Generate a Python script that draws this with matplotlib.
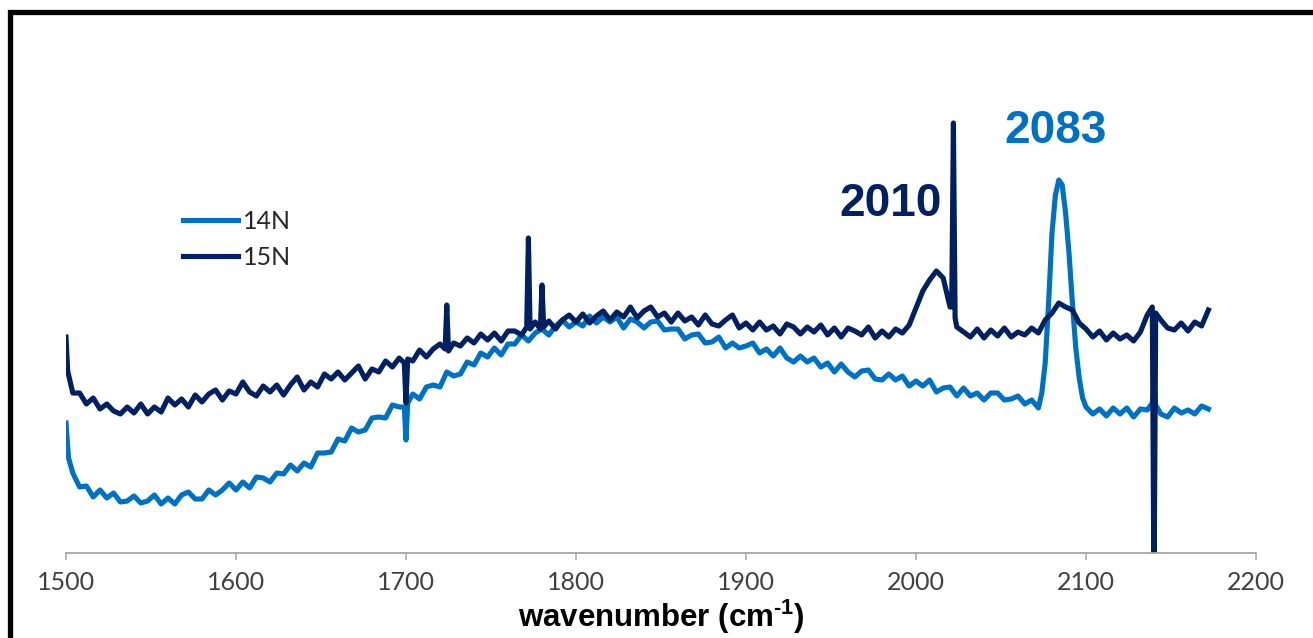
import numpy as np
import matplotlib
matplotlib.use("Agg")
import matplotlib.pyplot as plt
from matplotlib.patches import Rectangle

# wavenumber grid (cm-1), 4 cm-1 step
wn = np.arange(1500, 2173, 4)

# 14N intensity (arb. units) on the grid
n14 = [130, 80, 66, 67, 56, 63, 55, 60, 51, 52,
       57, 50, 52, 58, 49, 55, 49, 58, 61, 54,
       54, 63, 58, 63, 70, 63, 71, 65, 76, 75,
       71, 80, 79, 88, 82, 90, 86, 100, 100, 101,
       114, 112, 125, 121, 123, 135, 136, 135, 148, 146,
       151, 159, 154, 166, 168, 166, 181, 177, 179, 191,
       188, 200, 196, 205, 198, 209, 209, 218, 212, 220,
       224, 218, 227, 233, 226, 231, 227, 237, 230, 236,
       231, 236, 225, 234, 231, 225, 231, 232, 223, 224,
       224, 214, 218, 219, 210, 211, 216, 205, 210, 205,
       207, 210, 200, 204, 197, 205, 195, 191, 197, 191,
       195, 186, 190, 181, 189, 181, 176, 182, 183, 174,
       173, 179, 173, 177, 167, 172, 167, 173, 161, 165,
       166, 157, 165, 157, 160, 153, 160, 160, 153, 154,
       157, 149, 153, 145, 190, 320, 373, 340, 250, 175,
       146, 139, 144, 137, 145, 139, 145, 136, 144, 143,
       171, 139, 136, 145, 140, 143, 139, 147, 144]
# extra samples: spikes and the 2083 band
n14_x = [1501.5, 1699, 1700, 1701, 2074, 2078, 2082, 2086, 2090, 2094, 2098, 2139, 2140, 2141]
n14_y = [95, 146, 113, 150, 160, 250, 358, 368, 300, 205, 155, 150, 171, 148]

# 15N intensity (arb. units) on the grid
n15 = [216, 160, 160, 149, 155, 144, 149, 142, 139, 146,
       140, 149, 139, 146, 141, 155, 148, 154, 146, 158,
       151, 159, 163, 153, 162, 159, 171, 161, 157, 167,
       161, 168, 158, 168, 176, 163, 171, 166, 179, 174,
       181, 173, 180, 187, 174, 184, 181, 192, 186, 195,
       193, 192, 203, 196, 204, 209, 200, 210, 207, 215,
       210, 219, 213, 220, 212, 222, 222, 218, 227, 231,
       223, 232, 224, 233, 238, 231, 239, 230, 237, 242,
       233, 241, 236, 246, 235, 242, 246, 236, 240, 231,
       240, 232, 236, 228, 238, 229, 227, 233, 238, 225,
       230, 223, 231, 223, 227, 219, 229, 226, 219, 226,
       221, 228, 218, 225, 216, 225, 222, 218, 226, 215,
       222, 216, 224, 220, 228, 245, 262, 273, 282, 275,
       246, 226, 221, 216, 224, 215, 223, 217, 225, 216,
       221, 218, 225, 220, 233, 240, 250, 246, 243, 230,
       224, 216, 222, 213, 220, 214, 218, 212, 221, 238,
       240, 233, 225, 223, 230, 222, 231, 227, 243]
n15_x = [1501, 1699, 1700, 1701, 1723, 1724, 1725, 1771, 1772, 1773,
         1779, 1780, 1781, 2021, 2022, 2023, 2139, 2140, 2141]
n15_y = [182, 190, 150, 194, 204, 248, 202, 226, 315, 224,
         224, 268, 226, 246, 430, 235, 246, -50, 240]


def merge(xg, yg, xe, ye):
    d = dict(zip([float(v) for v in xg], yg))
    d.update(zip([float(v) for v in xe], ye))
    k = sorted(d)
    return np.array(k), np.array([d[v] for v in k])


c14 = '#0070C0'
c15 = '#002060'

plt.rcParams['mathtext.fontset'] = 'custom'
plt.rcParams['mathtext.bf'] = 'Liberation Sans:bold'
plt.rcParams['mathtext.rm'] = 'Liberation Sans:bold'

W, H = 1313, 638
fig = plt.figure(figsize=(W / 100, H / 100), dpi=100)
ax = fig.add_axes([66 / W, (H - 553) / H, 1190 / W, 520 / H])

x14, y14 = merge(wn, n14, n14_x, n14_y)
x15, y15 = merge(wn, n15, n15_x, n15_y)
ax.plot(x14, y14, color=c14, lw=3.7, label='14N', solid_joinstyle='round')
ax.plot(x15, y15, color=c15, lw=3.7, label='15N', solid_joinstyle='round')

ax.set_xlim(1500, 2200)
ax.set_ylim(0, 520)
ax.set_xticks(np.arange(1500, 2201, 100))
ax.set_yticks([])
for s in ['left', 'right', 'top']:
    ax.spines[s].set_visible(False)
ax.spines['bottom'].set_color('#A6A6A6')
ax.spines['bottom'].set_linewidth(1.3)
ax.tick_params(axis='x', direction='out', length=5, width=1.1, color='#A6A6A6',
               labelsize=18, labelcolor='#404040', pad=8)
for lab in ax.get_xticklabels():
    lab.set_fontfamily('Lato')

ax.text(1955, 337, '2010', color=c15, fontsize=33, fontweight='bold',
        family='Liberation Sans', va='baseline', ha='left')
ax.text(2052, 410, '2083', color=c14, fontsize=33, fontweight='bold',
        family='Liberation Sans', va='baseline', ha='left')

fig.text(661 / W, 1 - 617 / H, r'wavenumber (cm$^{\text{-}1}$)', ha='center', va='center',
         fontsize=22.5, fontweight='bold', family='Liberation Sans', color='#000000')

leg = ax.legend(loc='upper left', bbox_to_anchor=(183 / W, (H - 210) / H),
                bbox_transform=fig.transFigure, frameon=False, borderpad=0,
                borderaxespad=0, handlelength=2.2, handletextpad=0.2,
                labelspacing=0.5, prop={'family': 'Lato', 'size': 18})
for t in leg.get_texts():
    t.set_color('#262626')

# black frame around the picture
fig.patches.append(Rectangle((9.5 / W, -0.1), 1.2, 1 - 11.5 / H + 0.1,
                             transform=fig.transFigure, fill=False,
                             edgecolor='black', lw=3.8))

fig.savefig('out.png', dpi=100)
